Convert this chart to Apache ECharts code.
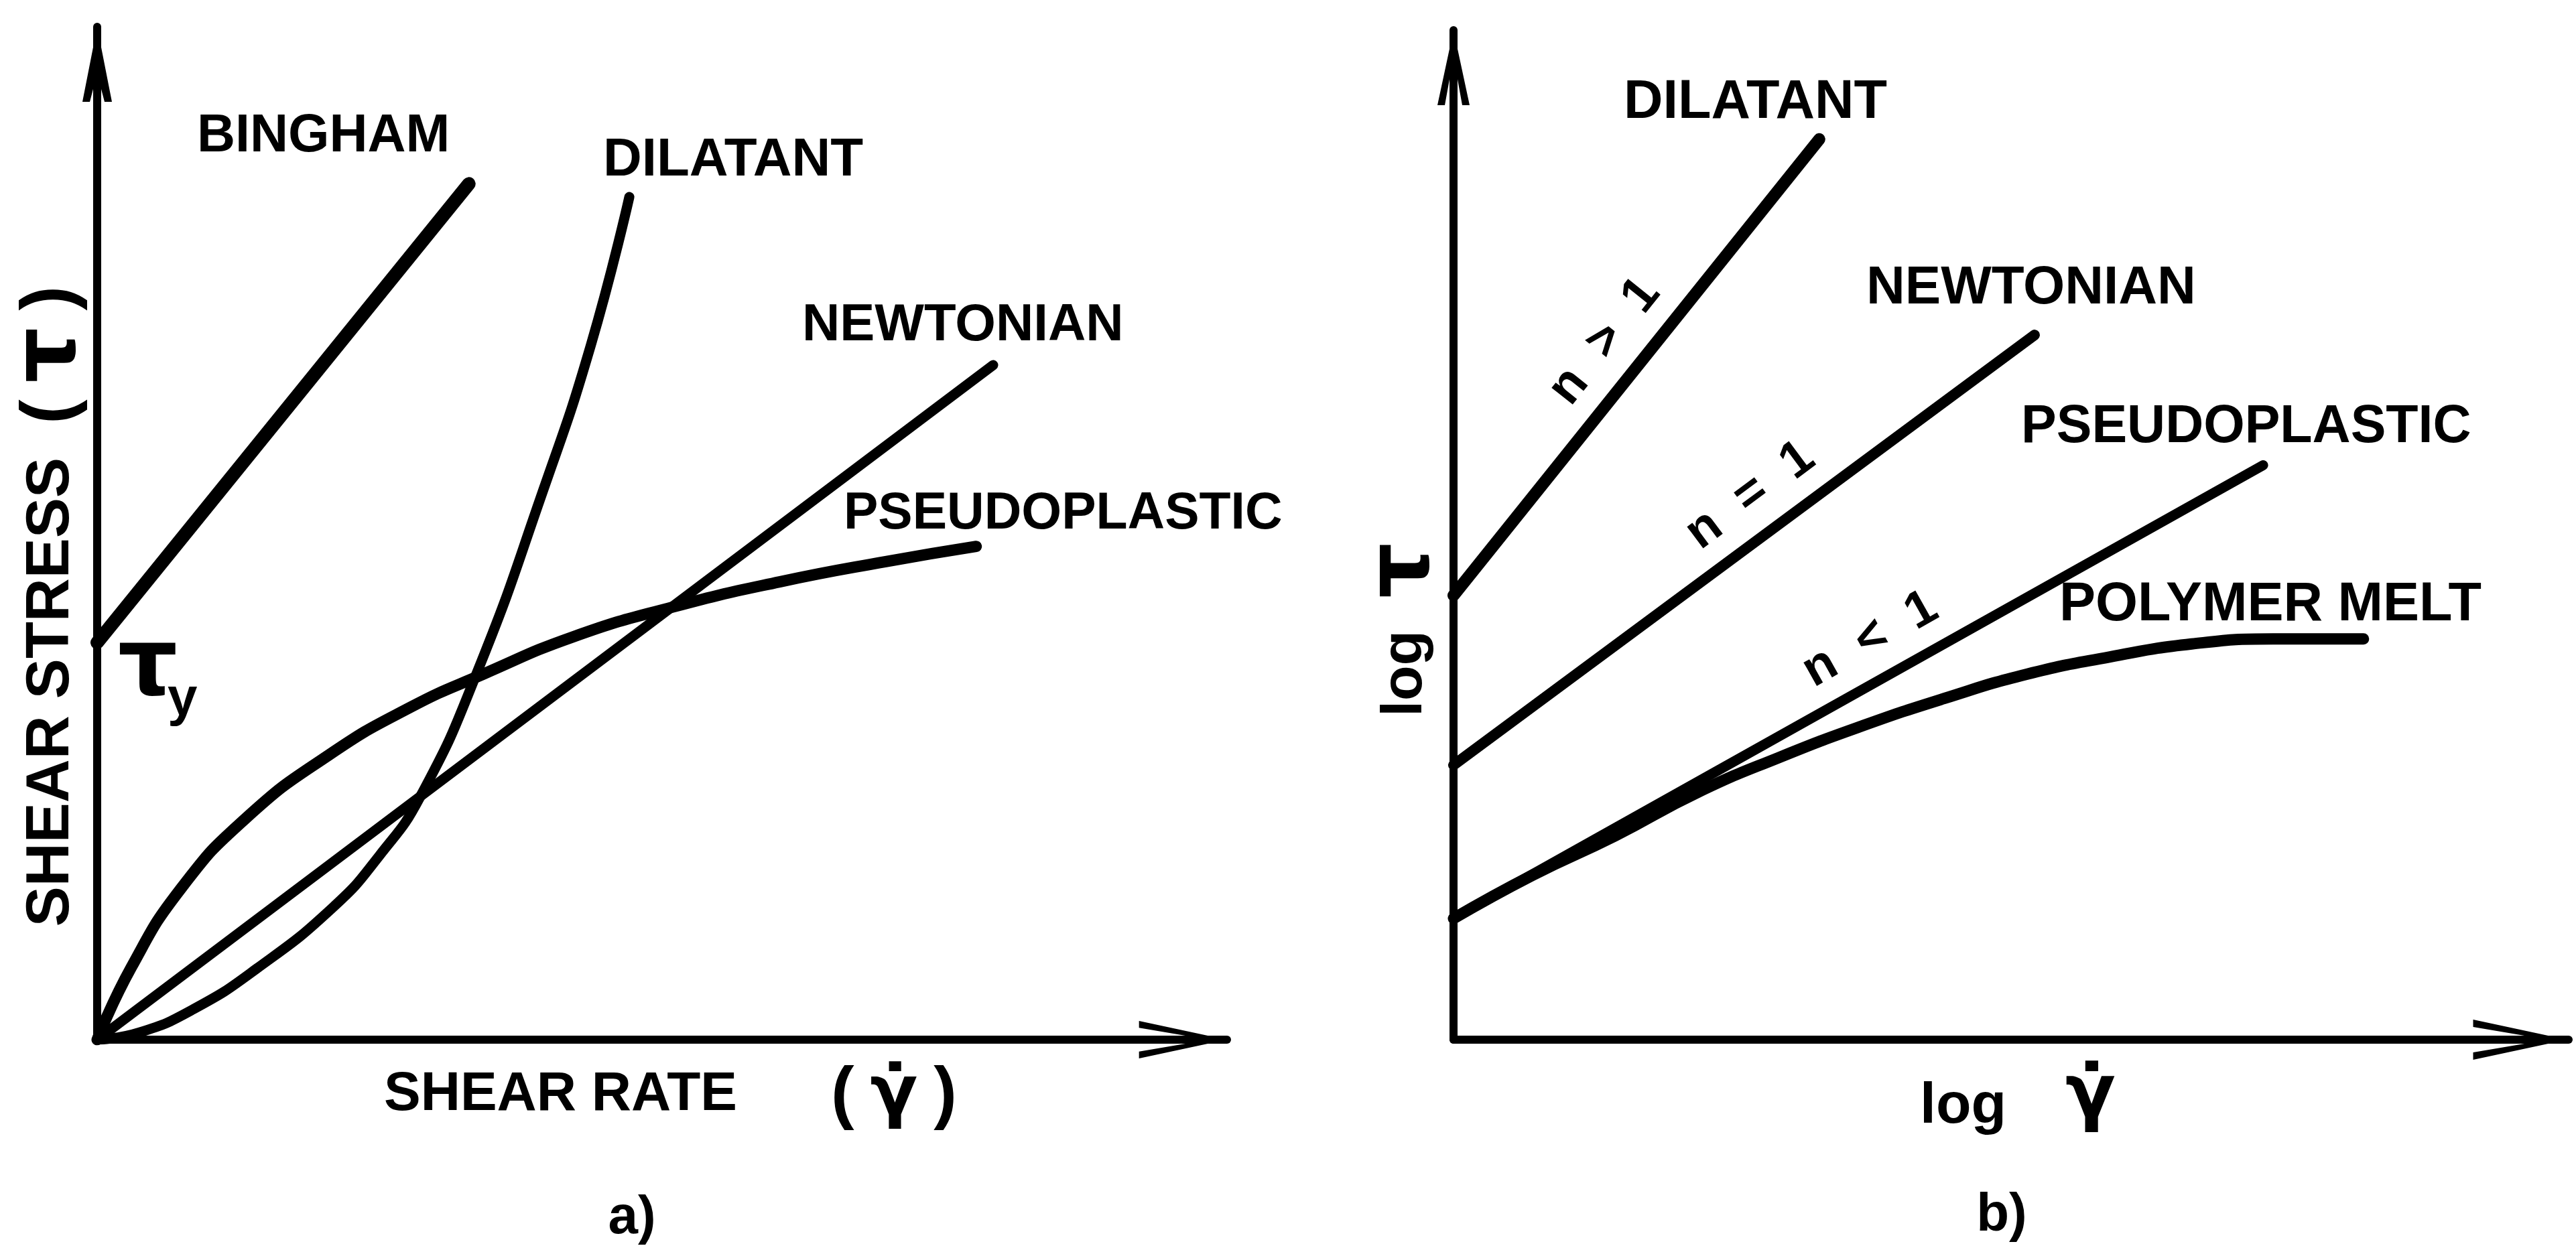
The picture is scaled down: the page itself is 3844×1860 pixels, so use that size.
<!DOCTYPE html>
<html><head><meta charset="utf-8">
<script src="https://cdn.jsdelivr.net/npm/echarts@6/dist/echarts.min.js"></script>
<style>html,body{margin:0;padding:0;background:#fff}#c{width:3844px;height:1860px}</style>
</head><body><div id="c"></div>
<script>
// ---------- Panel a) : shear stress vs shear rate (arbitrary units 0..100) ----------
const aBinghamX = [0, 32.9];
const aBinghamY = [39.2, 84.5];
const aNewtonianX = [0, 79.3];
const aNewtonianY = [0, 66.6];
const aDilatantX = [0, 3.7, 8.5, 14.1, 20.9, 25.0, 28.6, 33.6, 39.4, 43.7, 47.1];
const aDilatantY = [0, 0.7, 3.0, 7.0, 13.1, 18.2, 24.0, 36.2, 54.0, 68.6, 83.2];
const aPseudoX = [0, 3.0, 7.4, 13.2, 20.5, 27.7, 34.2, 42.2, 50.9, 60.4, 69.8, 77.8];
const aPseudoY = [0, 7.1, 14.9, 21.9, 28.1, 32.8, 36.1, 39.8, 42.7, 45.2, 47.2, 48.7];

// ---------- Panel b) : log tau vs log shear rate (arbitrary units 0..100) ----------
const bDilatantX = [0, 32.8];
const bDilatantY = [44.0, 89.2];
const bNewtonianX = [0, 52.1];
const bNewtonianY = [27.2, 69.8];
const bPseudoX = [0, 72.6];
const bPseudoY = [12.0, 56.9];
const bMeltX = [0, 7.1, 14.5, 21.9, 29.3, 36.7, 44.0, 51.4, 58.8, 66.2, 73.5, 81.6];
const bMeltY = [12.0, 16.3, 20.2, 24.5, 28.0, 31.1, 33.8, 36.2, 37.9, 39.2, 39.7, 39.7];

// ---------- Texts ----------
const aCurveLabels = ['BINGHAM', 'DILATANT', 'NEWTONIAN', 'PSEUDOPLASTIC'];
const bCurveLabels = ['DILATANT', 'NEWTONIAN', 'PSEUDOPLASTIC', 'POLYMER MELT'];
const bIndexLabels = ['n  >  1', 'n  =  1', 'n  <  1'];
const aYTitle = 'SHEAR STRESS';
const aXTitle = 'SHEAR RATE';
const bLog = 'log';
const tau = 'τ';
const gammaDot = 'γ̇';
const panelTags = ['a)', 'b)'];

function pairs(xs, ys) { return xs.map((x, i) => [x, ys[i]]); }

const chart = echarts.init(document.getElementById('c'), null, {renderer: 'canvas'});

const FONT = '"Liberation Sans", Arial, sans-serif';
const AX_W = 12;
const chevron = 'path://M30,0 L60,140 L49,140 L30,28 L11,140 L0,140 Z';
const yArrowA = 'path://M22,0 L44,112 L33,112 L22,70 L11,112 L0,112 Z';
const yArrowB = 'path://M24,0 L48,112 L37,112 L24,40 L11,112 L0,112 Z';

function axisLine(sym, size) {
  return {
    show: true, onZero: false,
    lineStyle: {color: '#000', width: AX_W},
    symbol: ['none', sym],
    symbolSize: size,
    symbolOffset: [0, -size[1] / 2]
  };
}
function valAxis(grid, sym, size, max) {
  return {
    type: 'value', gridIndex: grid, min: 0, max: max,
    axisLine: axisLine(sym, size),
    axisTick: {show: false}, axisLabel: {show: false}, splitLine: {show: false}
  };
}
function curve(xi, name, xs, ys, w, smooth) {
  return {
    type: 'line', name: name, xAxisIndex: xi, yAxisIndex: xi,
    data: pairs(xs, ys), showSymbol: false, symbol: 'none',
    smooth: smooth ? 0.5 : false,
    lineStyle: {color: '#000', width: w, cap: 'round', join: 'round'},
    silent: true, animation: false, z: 3
  };
}
function txt(x, y, text, size, opts) {
  opts = opts || {};
  return {
    type: 'text', x: x, y: y, rotation: opts.rot || 0, silent: true, z: 10,
    style: Object.assign({
      text: text, fill: '#000',
      font: (opts.weight || 'bold') + ' ' + size + 'px ' + (opts.family || FONT),
      align: opts.align || 'left', verticalAlign: 'middle',
      textAlign: opts.align || 'left', textVerticalAlign: 'middle'
    }, opts.extra || {})
  };
}

const deg = Math.PI / 180;
const option = {
  backgroundColor: '#fff',
  animation: false,
  grid: [
    {left: 145, top: 40, width: 1686, height: 1512},
    {left: 2169, top: 45, width: 1664, height: 1507}
  ],
  xAxis: [
    valAxis(0, chevron, [56, 132], 100),
    valAxis(1, chevron, [60, 145], 100)
  ],
  yAxis: [
    valAxis(0, yArrowA, [44, 112], 100),
    valAxis(1, yArrowB, [48, 112], 100)
  ],
  series: [
    curve(0, aCurveLabels[0], aBinghamX, aBinghamY, 20, false),
    curve(0, aCurveLabels[1], aDilatantX, aDilatantY, 15, true),
    curve(0, aCurveLabels[2], aNewtonianX, aNewtonianY, 15, false),
    curve(0, aCurveLabels[3], aPseudoX, aPseudoY, 17, true),
    curve(1, bCurveLabels[0], bDilatantX, bDilatantY, 18, false),
    curve(1, bCurveLabels[1], bNewtonianX, bNewtonianY, 16, false),
    curve(1, bCurveLabels[2], bPseudoX, bPseudoY, 15, false),
    curve(1, bCurveLabels[3], bMeltX, bMeltY, 17, true)
  ],
  graphic: [
    // panel a labels
    txt(294, 204, aCurveLabels[0], 79),
    txt(900, 240, aCurveLabels[1], 80),
    txt(1197, 486, aCurveLabels[2], 78),
    txt(1259, 768, aCurveLabels[3], 77),
    txt(176, 1000, tau, 140, {family: '"DejaVu Sans", sans-serif'}),
    txt(250, 1045, 'y', 80),
    txt(77, 905, aYTitle + '  {p|(} {t|' + tau + '} {p|)}', 90, {rot: 90 * deg, align: 'center', extra: {
      rich: {p: {font: 'bold 110px ' + FONT}, t: {font: 'bold 130px "DejaVu Sans", sans-serif'}}
    }}),
    txt(573, 1634, aXTitle, 82),
    txt(1240, 1636, '{p|(} {g|' + gammaDot + '} {p|)}', 86, {extra: {
      rich: {p: {font: 'bold 104px ' + FONT}, g: {font: 'bold 104px "DejaVu Sans", sans-serif'}}
    }}),
    txt(943, 1819, panelTags[0], 80, {align: 'center'}),
    // panel b labels
    txt(2423, 154, bCurveLabels[0], 81),
    txt(2785, 431, bCurveLabels[1], 80),
    txt(3016, 638, bCurveLabels[2], 79),
    txt(3073, 904, bCurveLabels[3], 81),
    txt(2395, 510, bIndexLabels[0], 76, {rot: 51.4 * deg, align: 'center'}),
    txt(2612, 740, bIndexLabels[1], 76, {rot: 36.6 * deg, align: 'center'}),
    txt(2791, 955, bIndexLabels[2], 76, {rot: 29.3 * deg, align: 'center'}),
    txt(2097, 940, bLog + '  {t|' + tau + '}', 86, {rot: 90 * deg, align: 'center', extra: {
      rich: {t: {font: 'bold 130px "DejaVu Sans", sans-serif'}}
    }}),
    txt(2865, 1652, bLog, 86),
    txt(3082, 1638, gammaDot, 110, {family: '"DejaVu Sans", sans-serif'}),
    txt(2987, 1815, panelTags[1], 80, {align: 'center'})
  ]
};
chart.setOption(option);
</script>
</body></html>
